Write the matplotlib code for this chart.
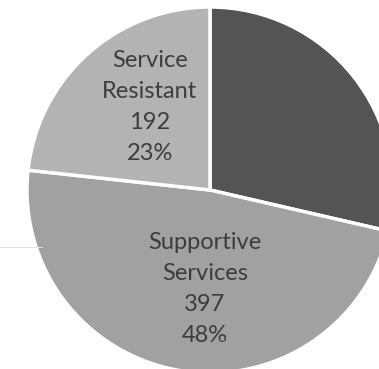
import matplotlib
matplotlib.use("Agg")
import matplotlib.pyplot as plt

# Case breakdown by service category
categories = ["Other", "Supportive\nServices", "Service\nResistant"]
counts = [236, 397, 192]
slice_colors = ["#545454", "#a1a1a1", "#b3b3b3"]

total = sum(counts)

fig = plt.figure(figsize=(3.79, 3.69), dpi=100)
ax = fig.add_axes([0, 0, 1, 1])

wedges, _ = ax.pie(
    counts,
    colors=slice_colors,
    startangle=90,
    counterclock=False,
    center=(210, 179),
    radius=183,
    wedgeprops=dict(edgecolor="white", linewidth=2.5),
    frame=True,
)

# Labels for the two visible slices: name, count and share
label_pos = {1: (205, 80), 2: (150, 262)}
for i, (x, y) in label_pos.items():
    pct = round(100 * counts[i] / total)
    ax.text(x, y, f"{categories[i]}\n{counts[i]}\n{pct}%",
            ha="center", va="center", fontsize=17, family="Lato",
            color="#3d3d3d", linespacing=1.6)

# faint stray rule at the left edge
ax.plot([0, 42], [122, 122], color="#e2e2e2", linewidth=0.7)

ax.set_xlim(0, 379)
ax.set_ylim(0, 369)
ax.set_aspect("equal")
ax.axis("off")

fig.savefig("out.png", dpi=100, facecolor="white")
